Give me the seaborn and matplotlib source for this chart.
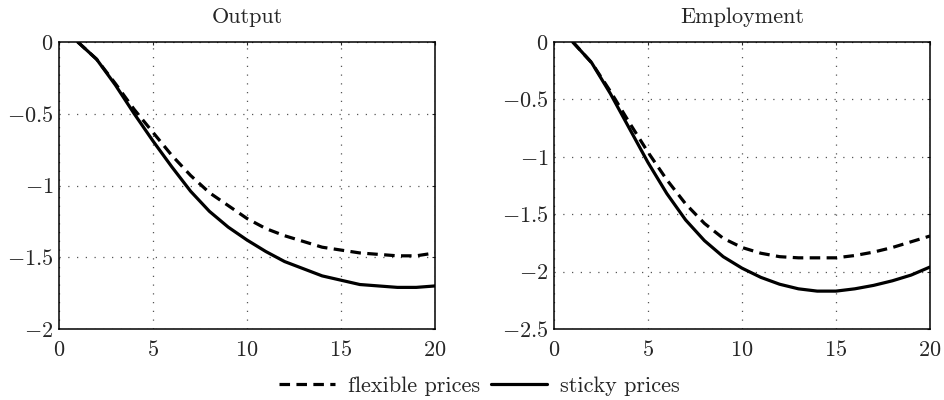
import numpy as np
import pandas as pd
import seaborn as sns
import matplotlib
matplotlib.use("Agg")
import matplotlib.pyplot as plt
from matplotlib.lines import Line2D

periods = list(range(1, 21))
output_flexible = [0, -0.12, -0.29, -0.47, -0.63, -0.79, -0.93, -1.05, -1.14, -1.23,
                   -1.30, -1.35, -1.39, -1.43, -1.45, -1.47, -1.48, -1.49, -1.49, -1.47]
output_sticky = [0, -0.12, -0.30, -0.50, -0.69, -0.87, -1.04, -1.18, -1.29, -1.38,
                 -1.46, -1.53, -1.58, -1.63, -1.66, -1.69, -1.70, -1.71, -1.71, -1.70]
employment_flexible = [0, -0.18, -0.43, -0.70, -0.96, -1.20, -1.41, -1.58, -1.71, -1.79,
                       -1.84, -1.87, -1.88, -1.88, -1.88, -1.86, -1.83, -1.79, -1.74, -1.69]
employment_sticky = [0, -0.18, -0.45, -0.75, -1.05, -1.32, -1.55, -1.73, -1.87, -1.97,
                     -2.05, -2.11, -2.15, -2.17, -2.17, -2.15, -2.12, -2.08, -2.03, -1.96]
series_labels = ["flexible prices", "sticky prices"]
panel_titles = ["Output", "Employment"]
x_ticks = [0, 5, 10, 15, 20]
output_yticks = [0, -0.5, -1, -1.5, -2]
employment_yticks = [0, -0.5, -1, -1.5, -2, -2.5]

sns.set_style("white")
plt.rcParams['font.family'] = ['cmr10', 'DejaVu Serif']
plt.rcParams['mathtext.fontset'] = 'cm'
plt.rcParams['axes.formatter.use_mathtext'] = True

FS = 16
fig = plt.figure(figsize=(9.44, 4.0), dpi=100)
ax1 = fig.add_axes([59/944, 1-329/400, 376/944, 287/400])
ax2 = fig.add_axes([554/944, 1-329/400, 376/944, 287/400])

panels = [
    (ax1, output_flexible, output_sticky, (-2, 0), output_yticks),
    (ax2, employment_flexible, employment_sticky, (-2.5, 0), employment_yticks),
]
dash = (3.3, 2.0)
for (ax, flex, sticky, ylim, yt), title in zip(panels, panel_titles):
    df = pd.DataFrame({
        "t": periods * 2,
        "v": flex + sticky,
        "s": [series_labels[0]] * len(periods) + [series_labels[1]] * len(periods),
    })
    sns.lineplot(data=df, x="t", y="v", style="s", ax=ax, color="black",
                 linewidth=2.3, dashes={series_labels[0]: dash, series_labels[1]: ""},
                 legend=False)
    ax.set_xlim(0, 20)
    ax.set_ylim(*ylim)
    ax.set_xticks(x_ticks)
    ax.set_xticklabels([f"${v:g}$" for v in x_ticks])
    ax.set_yticks(yt)
    ax.set_yticklabels([f"${v:g}$" for v in yt])
    ax.set_xlabel("")
    ax.set_ylabel("")
    ax.set_title(title, fontsize=FS, pad=14)
    ax.grid(True, linestyle=(0, (1, 6)), color="#555555", linewidth=0.9)
    ax.tick_params(direction="in", length=2.5, labelsize=FS, top=True, right=True,
                   width=0.8)
    ax.tick_params(axis="x", pad=8)
    ax.tick_params(axis="y", pad=4)
    for sp in ax.spines.values():
        sp.set_visible(True)
        sp.set_color("black")
        sp.set_linewidth(1.1)

handles = [Line2D([], [], color="black", lw=2.3, dashes=dash),
           Line2D([], [], color="black", lw=2.3)]
fig.legend(handles, series_labels, loc="center", bbox_to_anchor=(0.508, 0.035),
           ncol=2, frameon=False, fontsize=FS, handlelength=2.5, handletextpad=0.6,
           columnspacing=0.5, borderpad=0.2)

fig.savefig("out.png", dpi=100)
